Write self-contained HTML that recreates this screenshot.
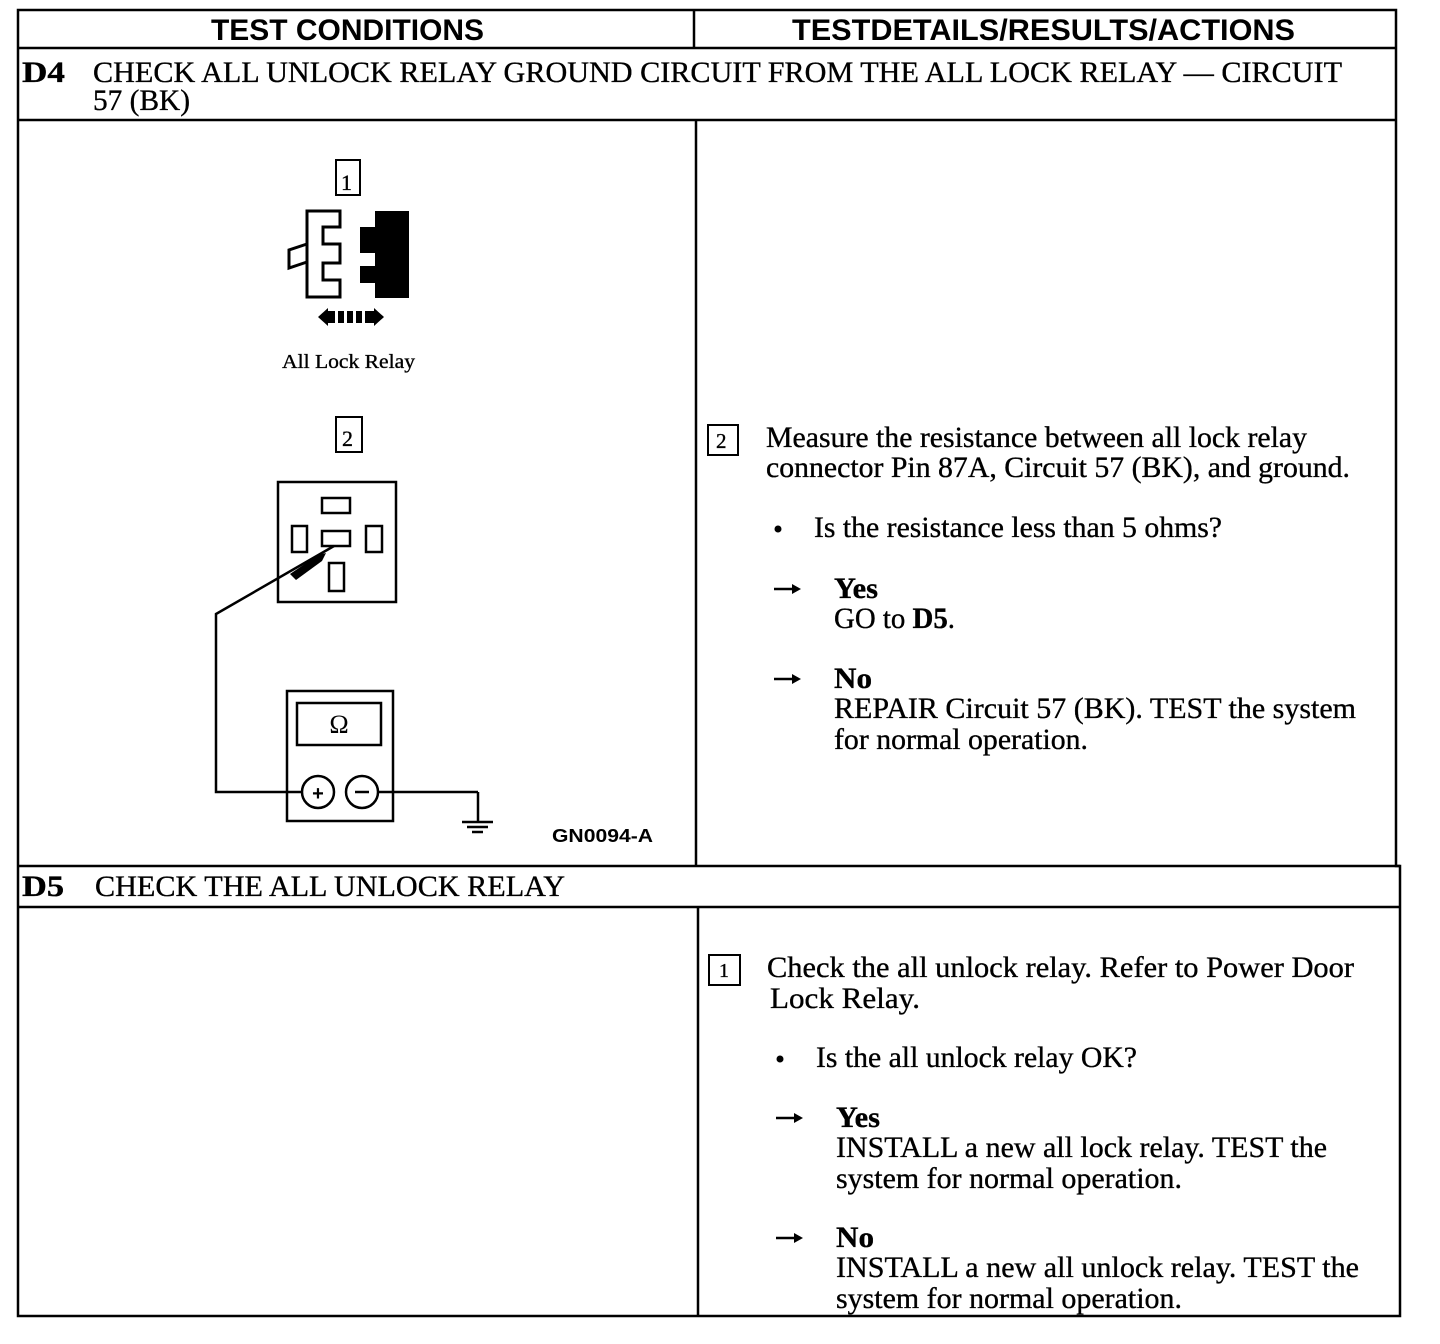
<!DOCTYPE html>
<html><head><meta charset="utf-8"><style>
html,body{margin:0;padding:0;background:#fff;}
svg{display:block}
.s{font-family:"Liberation Serif",serif;font-size:30px;fill:#000;stroke:#000;stroke-width:0.35}
.b{font-weight:bold}
.h{font-family:"Liberation Sans",sans-serif;font-weight:bold;font-size:30px;fill:#000}
</style></head><body>
<svg width="1440" height="1344" viewBox="0 0 1440 1344" xmlns="http://www.w3.org/2000/svg">
<defs>
<g id="arr"><line x1="0" y1="0" x2="20" y2="0" stroke="#000" stroke-width="2.5"/><path d="M18 -5 L27 0 L18 5 Z" fill="#000"/></g>
</defs>
<g stroke="#000" stroke-width="2.5" fill="none">
<path d="M18 10 L1396 10 L1396 866 L1400 866 L1400 1316 L18 1316 Z"/>
<line x1="18" y1="48" x2="1396" y2="48"/>
<line x1="18" y1="120" x2="1396" y2="120"/>
<line x1="18" y1="866" x2="1400" y2="866"/>
<line x1="18" y1="907" x2="1400" y2="907"/>
<line x1="694" y1="10" x2="694" y2="48"/>
<line x1="696" y1="120" x2="696" y2="866"/>
<line x1="698" y1="907" x2="698" y2="1316"/>
</g>
<text class="h" x="211" y="40" textLength="273" lengthAdjust="spacingAndGlyphs">TEST CONDITIONS</text>
<text class="h" x="792" y="40" textLength="503" lengthAdjust="spacingAndGlyphs">TESTDETAILS/RESULTS/ACTIONS</text>

<text class="s b" x="22" y="82" textLength="43" lengthAdjust="spacingAndGlyphs">D4</text>
<text class="s" x="93" y="82" textLength="1249" lengthAdjust="spacingAndGlyphs">CHECK ALL UNLOCK RELAY GROUND CIRCUIT FROM THE ALL LOCK RELAY — CIRCUIT</text>
<text class="s" x="93" y="110" textLength="97" lengthAdjust="spacingAndGlyphs">57 (BK)</text>

<g stroke="#000" stroke-width="2" fill="none">
<rect x="336" y="160" width="24" height="35"/>
<rect x="336" y="417" width="26" height="35"/>
</g>
<text class="s" x="341" y="190" style="font-size:22px">1</text>
<text class="s" x="342" y="446" style="font-size:22px">2</text>
<path d="M307 211 L340 211 L340 227 L323 227 L323 244 L340 244 L340 263 L323 263 L323 280 L340 280 L340 297 L307 297 Z" fill="#fff" stroke="#000" stroke-width="3"/>
<path d="M307 244 L289 250 L289 268 L307 262" fill="none" stroke="#000" stroke-width="3"/>
<path d="M375 211 L409 211 L409 298 L375 298 L375 283 L360 283 L360 266 L375 266 L375 253 L360 253 L360 227 L375 227 Z" fill="#000"/>
<path d="M318 317 L328 308 L328 326 Z M384 317 L374 308 L374 326 Z" fill="#000"/>
<g fill="#000"><rect x="328" y="311" width="7" height="12"/><rect x="338" y="311" width="6" height="12"/><rect x="347" y="311" width="6" height="12"/><rect x="356" y="311" width="6" height="12"/><rect x="365" y="311" width="9" height="12"/></g>
<text class="s" x="282" y="368" textLength="133" lengthAdjust="spacingAndGlyphs" style="font-size:20px">All Lock Relay</text>

<g stroke="#000" stroke-width="2.5" fill="none">
<rect x="278" y="482" width="118" height="120"/>
<rect x="322" y="498" width="28" height="15"/>
<rect x="292" y="526" width="15" height="26"/>
<rect x="322" y="531" width="28" height="15"/>
<rect x="366" y="526" width="16" height="26"/>
<rect x="329" y="563" width="15" height="28"/>
<polyline points="334,546 216,614 216,792 302,792"/>
<line x1="378" y1="792" x2="478" y2="792"/>
<line x1="478" y1="792" x2="478" y2="822"/>
<line x1="462" y1="822" x2="493" y2="822"/>
<line x1="467" y1="827" x2="488" y2="827"/>
<line x1="472" y1="832" x2="483" y2="832"/>
<rect x="287" y="691" width="106" height="130"/>
<rect x="297" y="703" width="84" height="42"/>
<circle cx="318" cy="792" r="16"/>
<circle cx="362" cy="792" r="16"/>
</g>
<path d="M290 574 L318 555 L326 553 L322 561 L296 580 Z" fill="#000"/>
<text x="339" y="733" text-anchor="middle" style="font-family:'Liberation Serif',serif;font-size:26px">Ω</text>
<text x="318" y="800" text-anchor="middle" style="font-family:'Liberation Sans',sans-serif;font-size:20px;font-weight:bold">+</text>
<line x1="355" y1="792" x2="369" y2="792" stroke="#000" stroke-width="2.5"/>
<text x="552" y="842" textLength="101" lengthAdjust="spacingAndGlyphs" style="font-family:'Liberation Sans',sans-serif;font-weight:bold;font-size:18px">GN0094-A</text>

<rect x="708" y="425" width="30" height="30" fill="none" stroke="#000" stroke-width="2"/>
<text class="s" x="716" y="448" style="font-size:21px">2</text>
<text class="s" x="766" y="447" textLength="541" lengthAdjust="spacingAndGlyphs">Measure the resistance between all lock relay</text>
<text class="s" x="766" y="477" textLength="584" lengthAdjust="spacingAndGlyphs">connector Pin 87A, Circuit 57 (BK), and ground.</text>
<circle cx="778" cy="529" r="3.5" fill="#000"/>
<text class="s" x="814" y="537" textLength="408" lengthAdjust="spacingAndGlyphs">Is the resistance less than 5 ohms?</text>
<use href="#arr" x="774" y="589"/>
<text class="s b" x="834" y="598" textLength="44" lengthAdjust="spacingAndGlyphs">Yes</text>
<text class="s" x="834" y="628" textLength="121" lengthAdjust="spacingAndGlyphs">GO to <tspan font-weight="bold">D5</tspan>.</text>
<use href="#arr" x="774" y="679"/>
<text class="s b" x="834" y="688" textLength="38" lengthAdjust="spacingAndGlyphs">No</text>
<text class="s" x="834" y="718" textLength="522" lengthAdjust="spacingAndGlyphs">REPAIR Circuit 57 (BK). TEST the system</text>
<text class="s" x="834" y="749" textLength="254" lengthAdjust="spacingAndGlyphs">for normal operation.</text>

<text class="s b" x="22" y="896" textLength="42" lengthAdjust="spacingAndGlyphs">D5</text>
<text class="s" x="95" y="896" textLength="470" lengthAdjust="spacingAndGlyphs">CHECK THE ALL UNLOCK RELAY</text>
<rect x="709" y="955" width="31" height="30" fill="none" stroke="#000" stroke-width="2"/>
<text class="s" x="719" y="977" style="font-size:20px">1</text>
<text class="s" x="767" y="977" textLength="587" lengthAdjust="spacingAndGlyphs">Check the all unlock relay. Refer to  Power Door</text>
<text class="s" x="770" y="1008" textLength="150" lengthAdjust="spacingAndGlyphs">Lock Relay.</text>
<circle cx="780" cy="1059" r="3.5" fill="#000"/>
<text class="s" x="816" y="1067" textLength="321" lengthAdjust="spacingAndGlyphs">Is the all unlock relay OK?</text>
<use href="#arr" x="776" y="1118"/>
<text class="s b" x="836" y="1127" textLength="44" lengthAdjust="spacingAndGlyphs">Yes</text>
<text class="s" x="836" y="1157" textLength="491" lengthAdjust="spacingAndGlyphs">INSTALL a new all lock relay. TEST the</text>
<text class="s" x="836" y="1188" textLength="346" lengthAdjust="spacingAndGlyphs">system for normal operation.</text>
<use href="#arr" x="776" y="1238"/>
<text class="s b" x="836" y="1247" textLength="38" lengthAdjust="spacingAndGlyphs">No</text>
<text class="s" x="836" y="1277" textLength="523" lengthAdjust="spacingAndGlyphs">INSTALL a new all unlock relay. TEST the</text>
<text class="s" x="836" y="1308" textLength="346" lengthAdjust="spacingAndGlyphs">system for normal operation.</text>
</svg>
</body></html>
